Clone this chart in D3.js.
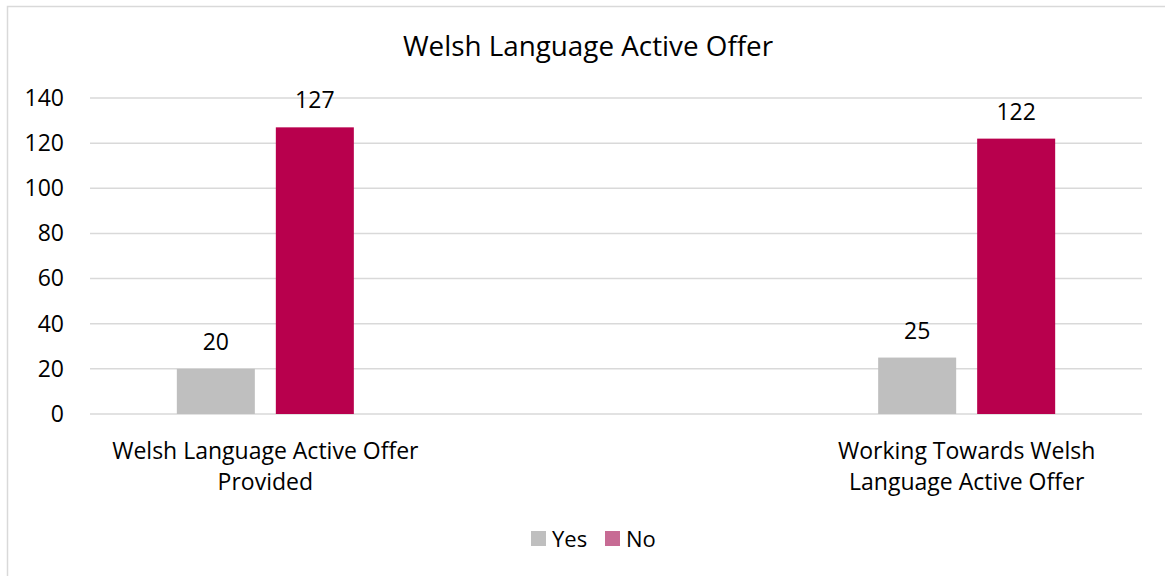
<!DOCTYPE html>
<html lang="en">
<head>
    <meta charset="UTF-8">
    <script src="https://cdnjs.cloudflare.com/ajax/libs/d3/7.9.0/d3.min.js"></script>
    <title>Welsh Language Active Offer</title>
    <style>
        body {
            margin: 0;
            padding: 0;
            background: #fff;
            font-family: "Open Sans", sans-serif;
        }
        svg text {
            fill: #000;
        }
    </style>
</head>
<body>
<div id="chart"></div>
<script>
    // data (middle category is an empty slot)
    const categories = ["Welsh Language Active Offer Provided", "", "Working Towards Welsh Language Active Offer"];
    const categoryLines = [["Welsh Language Active Offer", "Provided"], [], ["Working Towards Welsh", "Language Active Offer"]];
    const series = ["Yes", "No"];
    const yesValues = [20, null, 25];
    const noValues = [127, null, 122];
    const yTicks = [0, 20, 40, 60, 80, 100, 120, 140];

    const colors = { Yes: "#bfbfbf", No: "#b8004d" };
    const legendColors = { Yes: "#bfbfbf", No: "#c76b94" };
    const fs = 23;

    const width = 1165, height = 576;
    const svg = d3.select("#chart").append("svg")
        .attr("width", width).attr("height", height);

    // chart frame (runs off the right and bottom edge)
    svg.append("rect")
        .attr("x", 7.5).attr("y", 6.5)
        .attr("width", 1200).attr("height", 600)
        .attr("fill", "none").attr("stroke", "#d9d9d9").attr("stroke-width", 1.5);

    svg.append("text")
        .attr("x", 588).attr("y", 56)
        .attr("text-anchor", "middle")
        .attr("font-size", 27.8)
        .text("Welsh Language Active Offer");

    const x0 = d3.scaleBand().domain(categories).range([90, 1142]);
    const x1 = d3.scaleBand().domain(series).range([0, x0.bandwidth()])
        .paddingInner(0.212).paddingOuter(0.877);
    const y = d3.scaleLinear().domain([0, 140]).range([414, 98]);

    // gridlines
    svg.append("g").selectAll("line").data(yTicks).join("line")
        .attr("x1", 90).attr("x2", 1142)
        .attr("y1", d => y(d)).attr("y2", d => y(d))
        .attr("stroke", "#d9d9d9").attr("stroke-width", 1.5);

    // y axis labels
    const yAxis = d3.axisLeft(y).tickValues(yTicks).tickSize(0).tickPadding(0);
    const ga = svg.append("g").attr("transform", "translate(64,0)").call(yAxis);
    ga.select(".domain").remove();
    ga.selectAll("text")
        .attr("font-family", "'Open Sans', sans-serif")
        .attr("font-size", fs)
        .attr("fill", "#000");

    const rows = categories.map((c, i) => ({ cat: c, Yes: yesValues[i], No: noValues[i] }));

    const groups = svg.append("g").selectAll("g").data(rows).join("g")
        .attr("transform", d => `translate(${x0(d.cat)},0)`);

    const cells = groups.selectAll("g")
        .data(d => series.filter(s => d[s] != null).map(s => ({ key: s, value: d[s] })))
        .join("g");

    cells.append("rect")
        .attr("x", d => x1(d.key))
        .attr("width", x1.bandwidth())
        .attr("y", d => y(d.value))
        .attr("height", d => y(0) - y(d.value))
        .attr("fill", d => colors[d.key]);

    cells.append("text")
        .attr("x", d => x1(d.key) + x1.bandwidth() / 2)
        .attr("y", d => y(d.value) - 19)
        .attr("text-anchor", "middle")
        .attr("font-size", fs)
        .text(d => d.value);

    // category labels
    svg.append("g").selectAll("text").data(categories).join("text")
        .attr("text-anchor", "middle")
        .attr("font-size", fs)
        .each(function (d, i) {
            const t = d3.select(this);
            categoryLines[i].forEach((line, j) => {
                t.append("tspan")
                    .attr("x", x0(d) + x0.bandwidth() / 2)
                    .attr("y", 459 + j * 31)
                    .text(line);
            });
        });

    // legend
    const legendX = [531, 605];
    const legend = svg.append("g").selectAll("g").data(series).join("g")
        .attr("transform", (d, i) => `translate(${legendX[i]},531)`);
    legend.append("rect")
        .attr("width", 15).attr("height", 15)
        .attr("fill", d => legendColors[d]);
    legend.append("text")
        .attr("x", 21).attr("y", 16)
        .attr("font-size", 22)
        .text(d => d);
</script>
</body>
</html>
